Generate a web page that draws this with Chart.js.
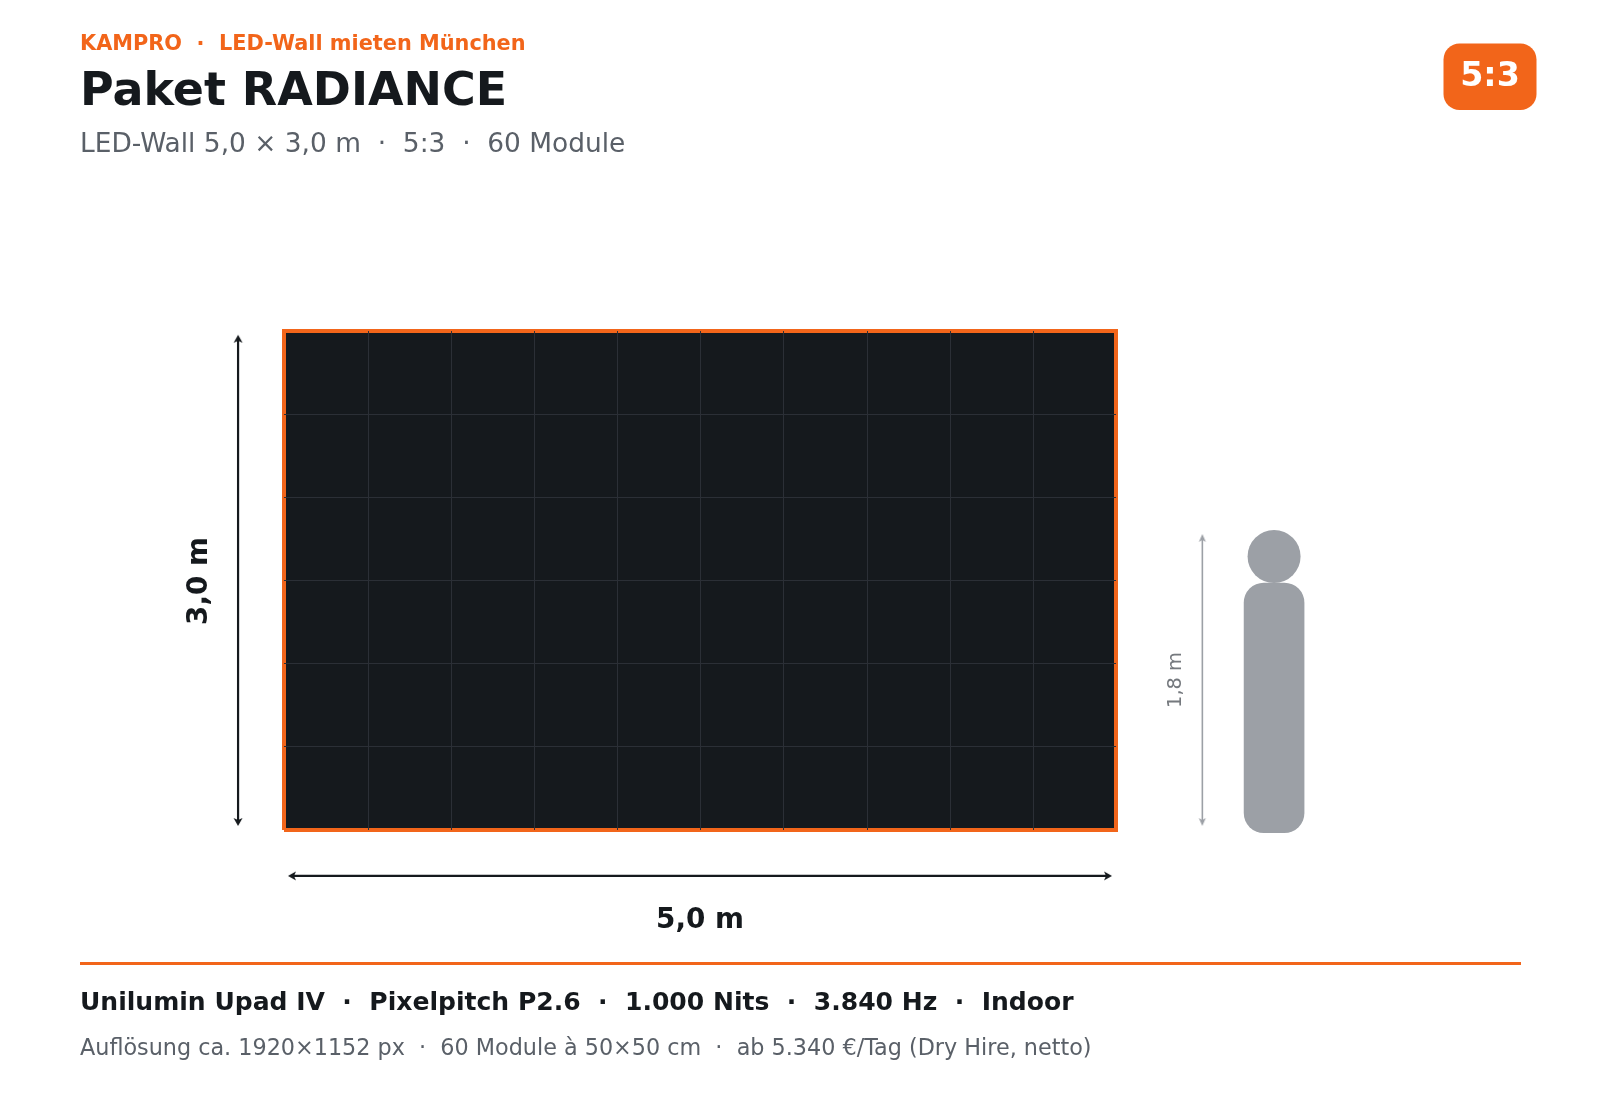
<!DOCTYPE html>
<html>
<head>
<meta charset="utf-8">
<title>Paket RADIANCE</title>
<script src="https://cdn.jsdelivr.net/npm/chart.js@4"></script>
<style>
  html, body { margin: 0; background: #fff; }
  canvas { display: block; }
</style>
</head>
<body>
<canvas id="chart" width="1600" height="1100"></canvas>
<script>
// everything below is in metres
const wallX = [0, 5, 5, 0, 0]
const wallY = [0, 0, 3, 3, 0]
const moduleColumns = [0.5, 1, 1.5, 2, 2.5, 3, 3.5, 4, 4.5]
const moduleRows = [0.5, 1, 1.5, 2, 2.5]
const heightArrowX = [-0.276, -0.276]
const heightArrowY = [0.048, 2.952]
const widthArrowX = [0.048, 4.952]
const widthArrowY = [-0.276, -0.276]
const personArrowX = [5.519, 5.519]
const personArrowY = [0.048, 1.755]
const personX = [5.95]
const personBody = [[-0.016, 1.484]]
const personHeadY = [1.644]

const ORANGE = '#f2651a'
const DARK = '#15191d'
const GRID = '#2b2f36'
const PERSON = '#9ca0a6'
const SLATE = '#5a6068'
const FONT = '"DejaVu Sans"'

const zip = (xs, ys) => xs.map((x, i) => ({ x, y: ys[i] }))

function arrowHead(fill, width, length) {
  const c = document.createElement('canvas')
  c.width = c.height = 24
  const g = c.getContext('2d')
  g.fillStyle = fill
  g.beginPath()
  g.moveTo(12, 12 - length / 2)
  g.lineTo(12 + width / 2, 12 + length / 2)
  g.lineTo(12, 12 + length / 4)
  g.lineTo(12 - width / 2, 12 + length / 2)
  g.closePath()
  g.fill()
  return c
}

function arrow(xs, ys, color, width, head, rotation) {
  return {
    type: 'line',
    data: zip(xs, ys),
    borderColor: color,
    borderWidth: width,
    pointStyle: head,
    pointRadius: 6,
    pointRotation: rotation,
    clip: false,
  }
}

const moduleLine = (xs, ys) => ({
  type: 'line',
  snap: 'grid',
  data: zip(xs, ys),
  borderColor: GRID,
  borderWidth: 1,
  pointRadius: 0,
  clip: false,
})

const darkHead = arrowHead(DARK, 9, 8)
const greyHead = arrowHead(PERSON, 7, 8)

// chart.js paints the first dataset last, so top layers come first
const datasets = [
  ...moduleColumns.map((x) => moduleLine([x, x], [0, 3])),
  ...moduleRows.map((y) => moduleLine([0, 5], [y, y])),
  {
    type: 'line',
    snap: 'wall',
    data: zip(wallX, wallY),
    borderColor: ORANGE,
    borderWidth: 4,
    borderJoinStyle: 'miter',
    pointRadius: 0,
    clip: false,
  },
  {
    type: 'line',
    snap: 'wall',
    data: zip([0, 5], [3, 3]),
    borderWidth: 0,
    pointRadius: 0,
    fill: 'origin',
    backgroundColor: DARK,
  },
  arrow(heightArrowX, heightArrowY, DARK, 2.2, darkHead, [180, 0]),
  arrow(widthArrowX, widthArrowY, DARK, 2.2, darkHead, [270, 90]),
  arrow(personArrowX, personArrowY, PERSON, 1.6, greyHead, [180, 0]),
  {
    type: 'line',
    data: zip(personX, personHeadY),
    pointRadius: 26.5,
    pointBackgroundColor: PERSON,
    pointBorderWidth: 0,
    showLine: false,
  },
  {
    type: 'bar',
    data: zip(personX, personBody),
    backgroundColor: PERSON,
    barThickness: 60,
    borderRadius: 20,
    borderSkipped: false,
  },
]

const texts = [
  { t: 'KAMPRO  ·  LED-Wall mieten München', x: 80, y: 50, f: `bold 20.85px ${FONT}`, c: ORANGE },
  { t: 'Paket RADIANCE', x: 80, y: 105, f: `bold 45.95px ${FONT}`, c: DARK },
  { t: 'LED-Wall 5,0 × 3,0 m  ·  5:3  ·  60 Module', x: 80, y: 152, f: `26.42px ${FONT}`, c: SLATE },
  { t: 'Unilumin Upad IV  ·  Pixelpitch P2.6  ·  1.000 Nits  ·  3.840 Hz  ·  Indoor', x: 80, y: 1010, f: `bold 25.05px ${FONT}`, c: DARK },
  { t: 'Auflösung ca. 1920×1152 px  ·  60 Module à 50×50 cm  ·  ab 5.340 €/Tag (Dry Hire, netto)', x: 80, y: 1055, f: `22.3px ${FONT}`, c: SLATE },
  { t: '5,0 m', x: 700, y: 928, f: `bold 27.8px ${FONT}`, c: DARK, a: 'center' },
  { t: '5:3', x: 1490, y: 86, f: `bold 33.3px ${FONT}`, c: '#fff', a: 'center' },
  { t: '3,0 m', x: 207, y: 581, f: `bold 27.8px ${FONT}`, c: DARK, a: 'center', r: -90 },
  { t: '1,8 m', x: 1181, y: 680, f: `19.4px ${FONT}`, c: '#75797e', a: 'center', r: -90 },
]

// the reference has its wall and module lines on whole pixels
const snapLines = {
  id: 'snapLines',
  afterDatasetsUpdate(chart) {
    chart.data.datasets.forEach((ds, i) => {
      if (!ds.snap) return
      const vertical = ds.data[0].x === ds.data[1].x
      chart.getDatasetMeta(i).data.forEach((p) => {
        if (ds.snap === 'wall') {
          p.x = Math.round(p.x)
          p.y = Math.round(p.y)
        } else if (vertical) {
          p.x = Math.floor(p.x + 0.8) + 0.5
          p.y = Math.round(p.y)
        } else {
          p.x = Math.round(p.x)
          p.y = Math.floor(p.y) + 0.5
        }
      })
    })
  },
}

const sheet = {
  id: 'sheet',
  afterDraw(chart) {
    const { ctx } = chart
    ctx.save()
    ctx.fillStyle = ORANGE
    ctx.fillRect(80, 962, 1441, 3)
    ctx.beginPath()
    ctx.roundRect(1443.5, 43.5, 93, 66.5, 16)
    ctx.fill()
    texts.forEach((l) => {
      ctx.save()
      ctx.translate(l.x, l.y)
      if (l.r) ctx.rotate((l.r * Math.PI) / 180)
      ctx.font = l.f
      ctx.fillStyle = l.c
      ctx.textAlign = l.a || 'left'
      ctx.textBaseline = 'alphabetic'
      ctx.fillText(l.t, 0, 0)
      ctx.restore()
    })
    ctx.restore()
  },
}

new Chart(document.getElementById('chart'), {
  data: { datasets },
  plugins: [snapLines, sheet],
  options: {
    responsive: false,
    animation: false,
    events: [],
    devicePixelRatio: 1,
    layout: { padding: 0, autoPadding: false },
    plugins: { legend: { display: false }, tooltip: { enabled: false } },
    scales: {
      x: { type: 'linear', display: false, offset: false, bounds: 'data', min: -284 / 166.4, max: 1316 / 166.4 },
      y: { type: 'linear', display: false, offset: false, bounds: 'data', min: -270 / 166.4, max: 830 / 166.4 },
    },
  },
})
</script>
</body>
</html>
